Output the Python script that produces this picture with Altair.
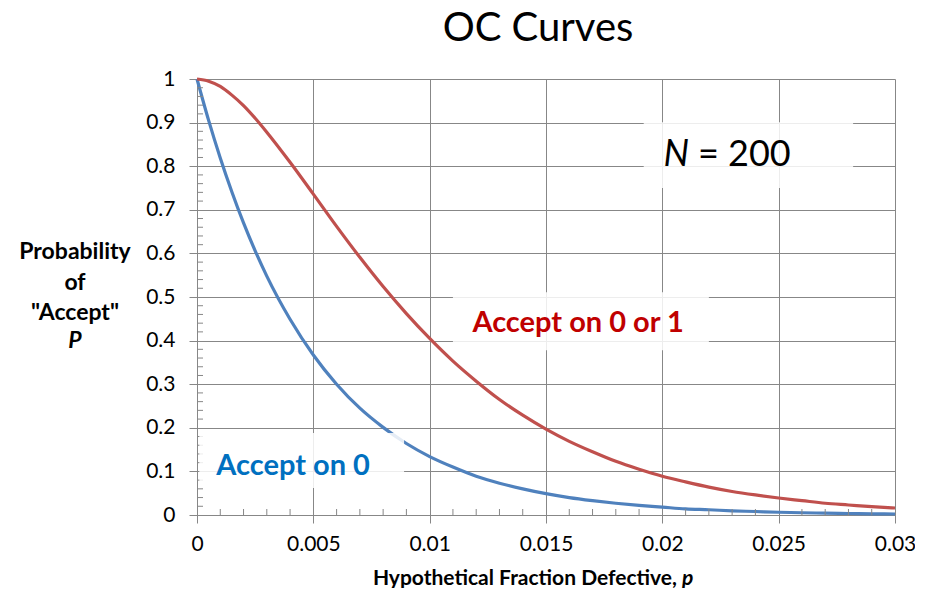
import altair as alt
import pandas as pd

# ---- data ----
p_vals = [0, 0.0005, 0.001, 0.0015, 0.002, 0.0025, 0.003, 0.004, 0.005, 0.006, 0.007,
          0.008, 0.009, 0.010, 0.011, 0.012, 0.013, 0.014, 0.015, 0.016, 0.017,
          0.018, 0.019, 0.020, 0.021, 0.022, 0.023, 0.024, 0.025, 0.026, 0.027,
          0.028, 0.029, 0.030]
accept_0 = [1.0, 0.905, 0.819, 0.741, 0.670, 0.606, 0.548, 0.449, 0.367, 0.300, 0.245,
            0.201, 0.164, 0.134, 0.110, 0.089, 0.073, 0.060, 0.049, 0.040, 0.033,
            0.027, 0.022, 0.018, 0.014, 0.012, 0.0095, 0.008, 0.0063, 0.0052, 0.0042,
            0.0034, 0.0028, 0.0023]
accept_01 = [1.0, 0.995, 0.983, 0.963, 0.939, 0.910, 0.878, 0.809, 0.736, 0.662, 0.591,
             0.524, 0.462, 0.405, 0.353, 0.307, 0.265, 0.229, 0.197, 0.169, 0.145,
             0.123, 0.105, 0.089, 0.076, 0.064, 0.054, 0.046, 0.039, 0.033, 0.027,
             0.023, 0.019, 0.016]
series_names = ["Accept on 0", "Accept on 0 or 1"]
series_colors = ["#4F81BD", "#C0504D"]

x_ticks = [0, 0.005, 0.01, 0.015, 0.02, 0.025, 0.03]
y_ticks = [0, 0.1, 0.2, 0.3, 0.4, 0.5, 0.6, 0.7, 0.8, 0.9, 1.0]
x_minor = [i / 1000 for i in range(1, 30) if i % 5 != 0]
y_minor = [i / 100 for i in range(2, 100, 2) if i % 10 != 0]

# label boxes (data coordinates) and texts
boxes = pd.DataFrame({
    "x1": [0.0001, 0.0110, 0.0192],
    "x2": [0.0089, 0.0220, 0.0282],
    "y1": [0.062, 0.378, 0.750],
    "y2": [0.188, 0.511, 0.901],
})
labels = pd.DataFrame({
    "x": [0.00413, 0.01638],
    "y": [0.112, 0.440],
    "text": ["Accept on 0", "Accept on 0 or 1"],
    "color": ["#0070C0", "#C00000"],
})

W, H = 698, 436
FONT = "Lato"
GRID = "#878787"

rows = []
for name, vals in zip(series_names, [accept_0, accept_01]):
    for p, v in zip(p_vals, vals):
        rows.append({"p": p, "P": v, "series": name})
df = pd.DataFrame(rows)

xscale = alt.Scale(domain=[0, 0.03], nice=False, zero=False)
yscale = alt.Scale(domain=[0, 1], nice=False)
xaxis = alt.Axis(values=x_ticks, format=".3~f", title=None, grid=True,
                 gridColor=GRID, domainColor=GRID, tickColor=GRID,
                 tickSize=8, labelFontSize=21, labelFont=FONT,
                 labelColor="black", labelPadding=10, labelFlush=False)
yaxis = alt.Axis(values=y_ticks, format=".1~f", title=None, grid=True,
                 gridColor=GRID, domainColor=GRID, tickColor=GRID,
                 tickSize=8, labelFontSize=21, labelFont=FONT,
                 labelColor="black", labelPadding=14)

lines = alt.Chart(df).mark_line(strokeWidth=3.2, interpolate="monotone").encode(
    x=alt.X("p:Q", scale=xscale, axis=xaxis),
    y=alt.Y("P:Q", scale=yscale, axis=yaxis),
    color=alt.Color("series:N", scale=alt.Scale(domain=series_names, range=series_colors),
                    legend=None),
)

ymin_df = pd.DataFrame({"v": y_minor})
xmin_df = pd.DataFrame({"v": x_minor})
y_minor_ticks = alt.Chart(ymin_df).mark_rule(color=GRID, strokeWidth=1).encode(
    y=alt.Y("v:Q", scale=yscale, axis=yaxis),
    x=alt.value(0), x2=alt.value(6),
)
x_minor_ticks = alt.Chart(xmin_df).mark_rule(color=GRID, strokeWidth=1).encode(
    x=alt.X("v:Q", scale=xscale, axis=xaxis),
    y=alt.value(H), y2=alt.value(H - 6),
)

rects = alt.Chart(boxes).mark_rect(color="white", opacity=0.85).encode(
    x=alt.X("x1:Q", scale=xscale, axis=xaxis), x2="x2:Q",
    y=alt.Y("y1:Q", scale=yscale, axis=yaxis), y2="y2:Q",
)

series_text = alt.Chart(labels).mark_text(fontSize=29, fontWeight="bold", font=FONT).encode(
    x=alt.X("x:Q", scale=xscale, axis=xaxis),
    y=alt.Y("y:Q", scale=yscale, axis=yaxis),
    text="text:N",
    color=alt.Color("color:N", scale=None),
)

one = pd.DataFrame({"a": [0]})

def txt(text, x, y, size, weight="normal", style="normal", align="center", color="black",
        baseline="middle"):
    return alt.Chart(one).mark_text(
        text=text, fontSize=size, fontWeight=weight, fontStyle=style, font=FONT,
        align=align, baseline=baseline, color=color,
    ).encode(x=alt.value(x), y=alt.value(y))

n_label = (txt("N", 492, 76, 36, style="italic", align="right") +
           txt("= 200", 501, 76, 36, align="left"))

title = txt("OC Curves", 341, -50, 40)

y_title = (txt("Probability", -122, 173, 23, weight="bold") +
           txt("of", -122, 204, 23, weight="bold") +
           txt('"Accept"', -122, 234, 23, weight="bold") +
           txt("P", -122, 262, 23, weight="bold", style="italic"))

x_title = (txt("Hypothetical Fraction Defective,", 480, 500, 21, weight="bold", align="right") +
           txt("p", 485, 500, 21, weight="bold", style="italic", align="left"))

chart = alt.layer(
    lines, y_minor_ticks, x_minor_ticks, rects, series_text, n_label, title, y_title, x_title
).properties(
    width=W, height=H,
    autosize=alt.AutoSizeParams(type="none"),
    padding={"left": 189, "top": 71, "right": 20, "bottom": 73},
).configure_view(stroke=None)

chart.save("out.html", embed_options={"renderer": "svg", "actions": False})
